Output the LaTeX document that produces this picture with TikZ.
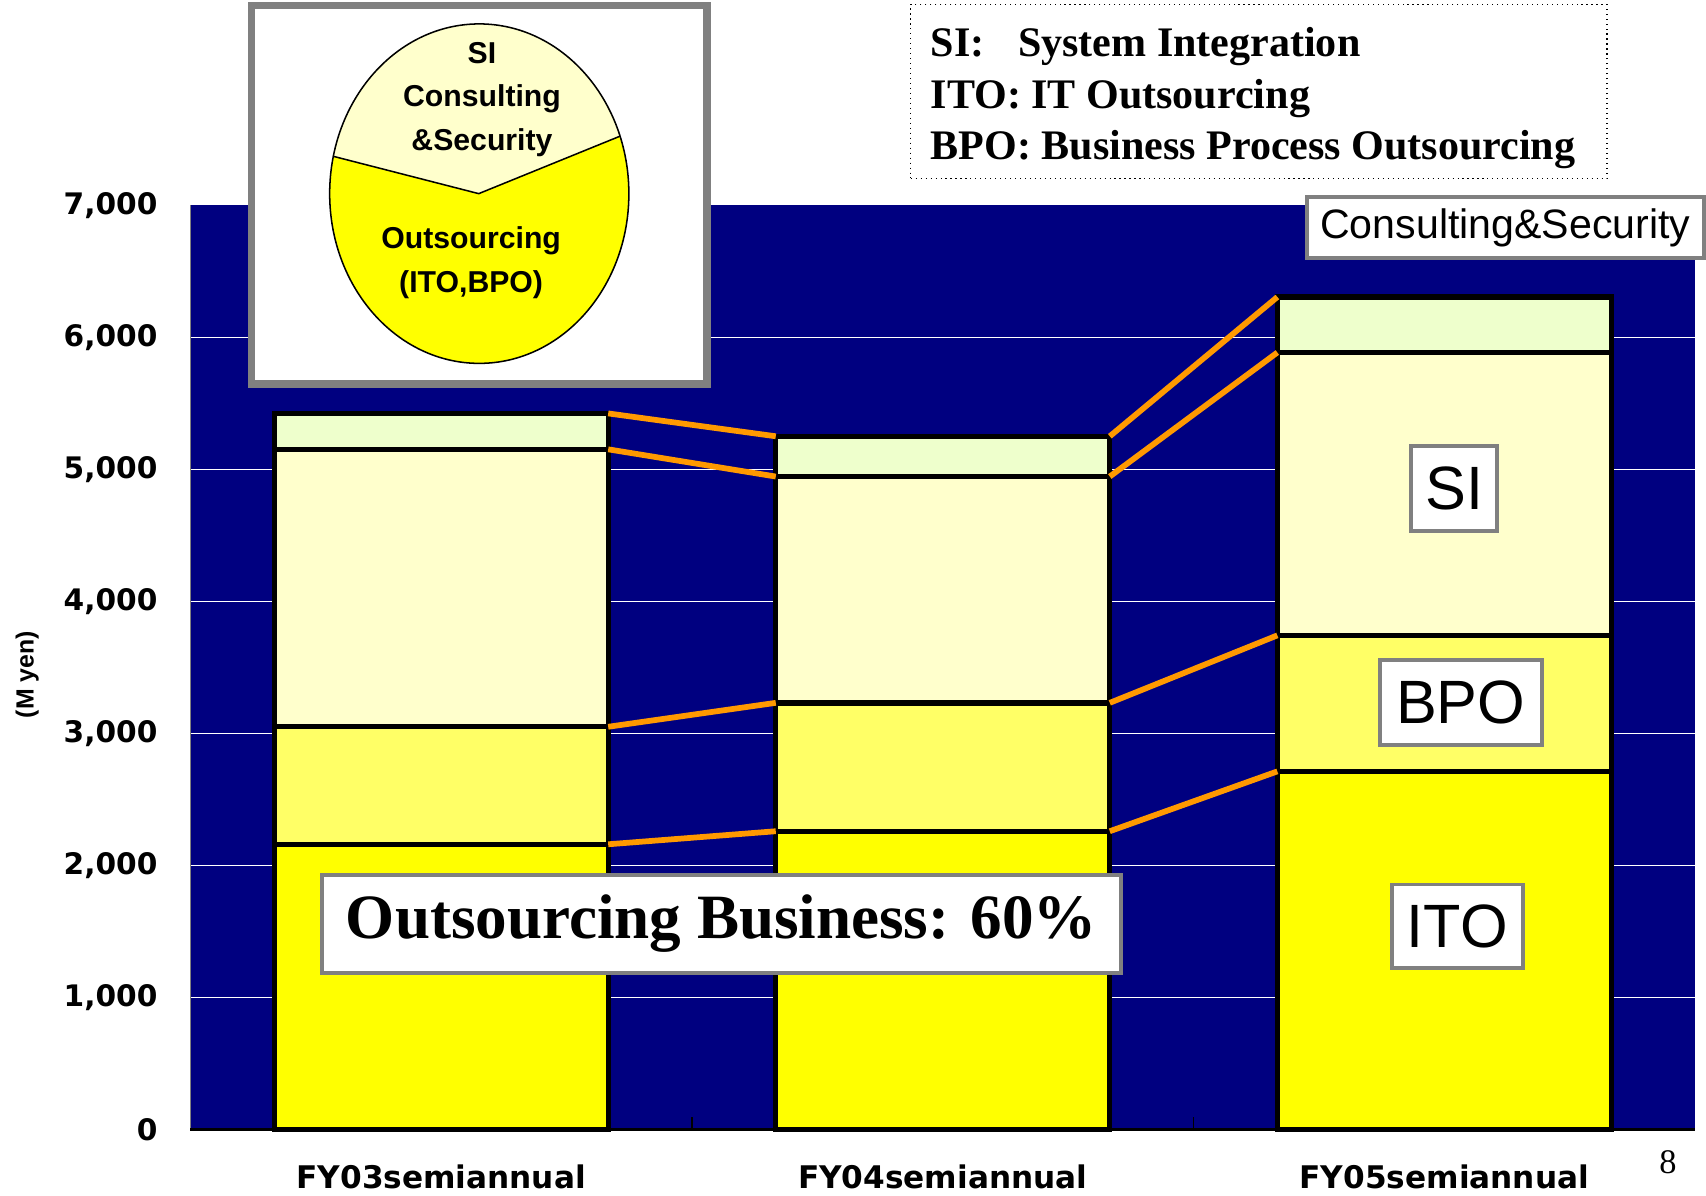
\documentclass[tikz,border=0pt]{standalone}
\usepackage{fontspec}
\setmainfont{Liberation Serif}
\setsansfont{Liberation Sans}
\newfontfamily\gothic{DejaVu Sans}
\usepackage{tikz}
\usetikzlibrary{shapes.geometric}

\definecolor{plotblue}{HTML}{000080}
\definecolor{csgreen}{HTML}{EEFFCC}
\definecolor{siyellow}{HTML}{FFFFCC}
\definecolor{bpoyellow}{HTML}{FFFF66}
\definecolor{itoyellow}{HTML}{FFFF00}
\definecolor{trendorange}{HTML}{FF9900}
\definecolor{framegray}{HTML}{808080}

\newcommand{\ylabfont}{\gothic\bfseries\fontsize{15.5}{18}\selectfont}
\newcommand{\catfont}{\gothic\bfseries\fontsize{16.3}{18}\selectfont}
\newcommand{\piefont}{\sffamily\bfseries\fontsize{15.8}{22.7}\selectfont}
\newcommand{\tagfont}{\sffamily\fontsize{32}{36}\selectfont}

\begin{document}
\begin{tikzpicture}[line join=miter]
		\tikzstyle{seg}=[rectangle, draw=black, line width=2.8pt, minimum width=6.14cm, inner sep=0pt, outer sep=0pt, anchor=south]
		\tikzstyle{tag}=[rectangle, draw=framegray, fill=white, line width=2pt, inner sep=0pt]
		\tikzstyle{trend}=[draw=trendorange, line width=3pt]
		\tikzstyle{gridline}=[draw=white, line width=0.6pt]
		\tikzstyle{ylab}=[anchor=east, inner sep=0pt, font=\ylabfont]
		\tikzstyle{catlab}=[inner sep=0pt, font=\catfont]

		\useasboundingbox (0,0) rectangle (31.36,21.98);

		% Draw plot area
		\fill[plotblue] (3.5,1.22) rectangle (31.16,18.22);
		\draw[gridline] (3.5,3.646) -- (31.16,3.646);
		\draw[gridline] (3.5,6.072) -- (31.16,6.072);
		\draw[gridline] (3.5,8.498) -- (31.16,8.498);
		\draw[gridline] (3.5,10.924) -- (31.16,10.924);
		\draw[gridline] (3.5,13.35) -- (31.16,13.35);
		\draw[gridline] (3.5,15.776) -- (31.16,15.776);
		\draw[framegray, line width=0.8pt] (3.5,1.22) -- (3.5,18.22);
		\draw[black, line width=0.8pt] (12.72,1.22) -- (12.72,1.44);
		\draw[black, line width=0.8pt] (21.94,1.22) -- (21.94,1.44);
		\draw[black, line width=1.5pt] (3.5,1.22) -- (31.16,1.22);

		% Draw axis labels
		\node[ylab] (y0) at (2.90,1.22) {0};
		\node[ylab] (y1) at (2.90,3.646) {1,000};
		\node[ylab] (y2) at (2.90,6.072) {2,000};
		\node[ylab] (y3) at (2.90,8.498) {3,000};
		\node[ylab] (y4) at (2.90,10.924) {4,000};
		\node[ylab] (y5) at (2.90,13.35) {5,000};
		\node[ylab] (y6) at (2.90,15.776) {6,000};
		\node[ylab] (y7) at (2.90,18.202) {7,000};
		\node[rotate=90, font=\sffamily\bfseries\fontsize{13}{15}\selectfont] (unit) at (0.50,9.58) {(M yen)};
		\node[catlab] (fy03) at (8.11,0.34) {FY03semiannual};
		\node[catlab] (fy04) at (17.33,0.34) {FY04semiannual};
		\node[catlab] (fy05) at (26.55,0.34) {FY05semiannual};
		\node[font=\fontsize{18}{20}\selectfont] (pagenum) at (30.66,0.62) {8};

		% Draw bars
		\node[seg, fill=itoyellow, minimum height=5.24cm] (ito1) at (8.11,1.22) {};
		\node[seg, fill=bpoyellow, minimum height=2.16cm] (bpo1) at (ito1.north) {};
		\node[seg, fill=siyellow, minimum height=5.10cm] (si1) at (bpo1.north) {};
		\node[seg, fill=csgreen, minimum height=0.66cm] (cs1) at (si1.north) {};

		\node[seg, fill=itoyellow, minimum height=5.48cm] (ito2) at (17.33,1.22) {};
		\node[seg, fill=bpoyellow, minimum height=2.36cm] (bpo2) at (ito2.north) {};
		\node[seg, fill=siyellow, minimum height=4.16cm] (si2) at (bpo2.north) {};
		\node[seg, fill=csgreen, minimum height=0.74cm] (cs2) at (si2.north) {};

		\node[seg, fill=itoyellow, minimum height=6.58cm] (ito3) at (26.55,1.22) {};
		\node[seg, fill=bpoyellow, minimum height=2.50cm] (bpo3) at (ito3.north) {};
		\node[seg, fill=siyellow, minimum height=5.20cm] (si3) at (bpo3.north) {};
		\node[seg, fill=csgreen, minimum height=1.02cm] (cs3) at (si3.north) {};

		% Draw trend lines
		\draw[trend] (cs1.north east) -- (cs2.north west);
		\draw[trend] (si1.north east) -- (si2.north west);
		\draw[trend] (bpo1.north east) -- (bpo2.north west);
		\draw[trend] (ito1.north east) -- (ito2.north west);
		\draw[trend] (cs2.north east) -- (cs3.north west);
		\draw[trend] (si2.north east) -- (si3.north west);
		\draw[trend] (bpo2.north east) -- (bpo3.north west);
		\draw[trend] (ito2.north east) -- (ito3.north west);

		% Draw tags
		\node[tag, minimum width=1.58cm, minimum height=1.56cm, font=\tagfont] (sitag) at (26.73,13.00) {SI};
		\node[tag, minimum width=2.98cm, minimum height=1.56cm, font=\tagfont] (bpotag) at (26.85,9.06) {BPO};
		\node[tag, minimum width=2.42cm, minimum height=1.54cm, font=\tagfont] (itotag) at (26.79,4.95) {ITO};
		\node[tag, minimum width=7.30cm, minimum height=1.12cm, font=\sffamily\fontsize{21.5}{24}\selectfont] (cstag) at (27.67,17.80) {Consulting\&Security};
		\node[tag, minimum width=14.68cm, minimum height=1.80cm, font=\bfseries\fontsize{33}{36}\selectfont] (share) at (13.26,5.00) {Outsourcing Business: 60\%};

		% Draw legend
		\node[draw=black, dotted, line width=0.6pt, minimum width=12.80cm, minimum height=3.20cm] (legend) at (23.14,20.30) {};
		\node[anchor=base west, inner sep=0pt, font=\bfseries\fontsize{22}{26}\selectfont] (legsi) at (17.10,20.94) {SI:\hspace{0.62cm}System Integration};
		\node[anchor=base west, inner sep=0pt, font=\bfseries\fontsize{22}{26}\selectfont] (legito) at (17.10,19.98) {ITO: IT Outsourcing};
		\node[anchor=base west, inner sep=0pt, font=\bfseries\fontsize{22}{26}\selectfont] (legbpo) at (17.10,19.04) {BPO: Business Process Outsourcing};

		% Draw pie inset
		\node[draw=framegray, fill=white, line width=4pt, minimum width=8.38cm, minimum height=6.96cm] (pieframe) at (8.81,18.40) {};
		\coordinate (pl) at (5.8,19.19);
		\coordinate (pc) at (8.80,18.42);
		\coordinate (pr) at (11.8,19.64);
		\coordinate (pru) at (11.8,21.8);
		\coordinate (plu) at (5.8,21.8);
		\node[ellipse, draw=black, line width=0.8pt, fill=itoyellow, minimum width=5.50cm, minimum height=6.24cm, inner sep=0pt,
			path picture={\fill[siyellow] (pl) -- (pc) -- (pr) -- (pru) -- (plu) -- cycle;
				\draw[line width=0.8pt] (pl) -- (pc) -- (pr);}] (pie) at (8.81,18.42) {};
		\node[align=center, font=\piefont] (pietop) at (8.86,20.15) {SI\\Consulting\\\&Security};
		\node[align=center, font=\piefont] (piebottom) at (8.66,17.15) {Outsourcing\\(ITO,BPO)};

		\end{tikzpicture}
\end{document}
